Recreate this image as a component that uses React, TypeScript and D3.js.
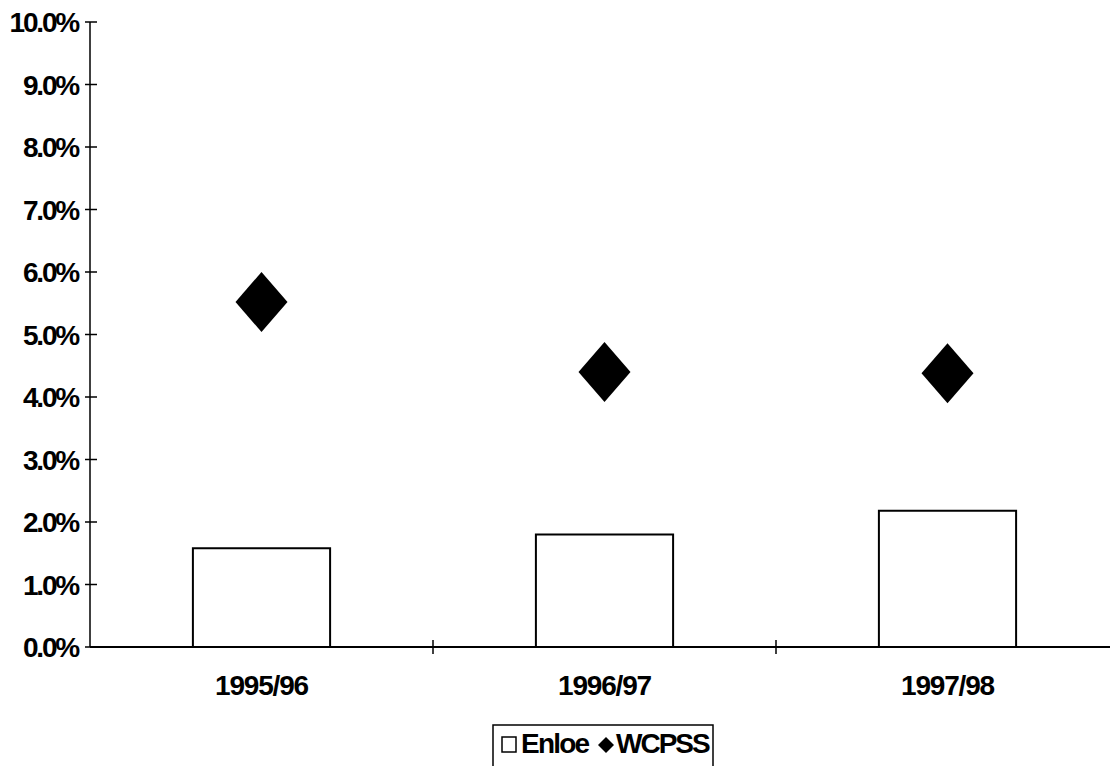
import React, { useRef, useEffect } from 'react';
import * as d3 from 'd3';

const categories = ['1995/96', '1996/97', '1997/98'];
const enloeValues = [0.0158, 0.018, 0.0218];
const wcpssValues = [0.0552, 0.044, 0.0438];
const yTicks = [0, 0.01, 0.02, 0.03, 0.04, 0.05, 0.06, 0.07, 0.08, 0.09, 0.1];
const legendLabels = ['Enloe', 'WCPSS'];

const FONT = '"Liberation Sans", Arial, sans-serif';

const App: React.FC = () => {
  const svgRef = useRef<SVGSVGElement>(null);

  useEffect(() => {
    document.body.style.margin = '0';
    if (!svgRef.current) return;

    const svg = d3.select(svgRef.current);
    svg.selectAll('*').remove();

    const width = 1110;
    const height = 766;
    const left = 90;
    const bandW = 343;

    svg.attr('width', width).attr('height', height);
    svg.append('rect').attr('width', width).attr('height', height).attr('fill', '#fff');

    const x = d3.scaleBand<string>()
      .domain(categories)
      .range([left, left + bandW * categories.length])
      .paddingInner(0)
      .paddingOuter(0);

    const y = d3.scaleLinear().domain([0, 0.1]).range([647, 22]);
    const fmt = d3.format('.1%');

    // y axis
    const g = svg.append('g');
    g.append('line')
      .attr('x1', left).attr('x2', left)
      .attr('y1', y(0.1)).attr('y2', y(0))
      .attr('stroke', '#000').attr('stroke-width', 1.5);

    yTicks.forEach(t => {
      g.append('line')
        .attr('x1', left - 5).attr('x2', left + 7)
        .attr('y1', y(t)).attr('y2', y(t))
        .attr('stroke', '#000').attr('stroke-width', 1.5);
      g.append('text')
        .attr('x', 78)
        .attr('y', y(t))
        .attr('dy', '0.36em')
        .attr('text-anchor', 'end')
        .style('font-family', FONT)
        .style('font-weight', 'bold')
        .style('font-size', '28px')
        .style('letter-spacing', '-2.2px')
        .text(fmt(t));
    });

    // bars
    const barW = x.bandwidth() * 0.4;
    svg.append('g')
      .selectAll('rect')
      .data(categories)
      .enter().append('rect')
      .attr('x', d => (x(d) as number) + x.bandwidth() / 2 - barW / 2)
      .attr('y', (d, i) => y(enloeValues[i]))
      .attr('width', barW)
      .attr('height', (d, i) => y(0) - y(enloeValues[i]))
      .attr('fill', '#fff')
      .attr('stroke', '#000')
      .attr('stroke-width', 2);

    // x axis
    svg.append('line')
      .attr('x1', left).attr('x2', width)
      .attr('y1', y(0)).attr('y2', y(0))
      .attr('stroke', '#000').attr('stroke-width', 2);

    categories.forEach((c, i) => {
      const bx = (x(c) as number) + x.bandwidth();
      if (i < categories.length - 1) {
        svg.append('line')
          .attr('x1', bx).attr('x2', bx)
          .attr('y1', y(0) - 7).attr('y2', y(0) + 7)
          .attr('stroke', '#000').attr('stroke-width', 1.5);
      }
      svg.append('text')
        .attr('x', (x(c) as number) + x.bandwidth() / 2)
        .attr('y', 695)
        .attr('text-anchor', 'middle')
        .style('font-family', FONT)
        .style('font-weight', 'bold')
        .style('font-size', '28px')
        .style('letter-spacing', '-1.2px')
        .text(c);
    });

    // diamonds
    const hw = 26, hh = 30;
    svg.append('g')
      .selectAll('path')
      .data(categories)
      .enter().append('path')
      .attr('transform', (d, i) => `translate(${(x(d) as number) + x.bandwidth() / 2},${y(wcpssValues[i])})`)
      .attr('d', `M0,${-hh}L${hw},0L0,${hh}L${-hw},0Z`)
      .attr('fill', '#000');

    // legend
    const lg = svg.append('g');
    lg.append('rect')
      .attr('x', 493).attr('y', 725)
      .attr('width', 220).attr('height', 50)
      .attr('fill', '#fff')
      .attr('stroke', '#000').attr('stroke-width', 1.5);
    lg.append('rect')
      .attr('x', 502).attr('y', 737)
      .attr('width', 14).attr('height', 15)
      .attr('fill', '#fff')
      .attr('stroke', '#000').attr('stroke-width', 1.5);
    lg.append('text')
      .attr('x', 521).attr('y', 753)
      .style('font-family', FONT)
      .style('font-weight', 'bold')
      .style('font-size', '28px')
      .style('letter-spacing', '-1.8px')
      .text(legendLabels[0]);
    lg.append('path')
      .attr('transform', 'translate(606,745)')
      .attr('d', 'M0,-8L8,0L0,8L-8,0Z')
      .attr('fill', '#000');
    lg.append('text')
      .attr('x', 616).attr('y', 753)
      .style('font-family', FONT)
      .style('font-weight', 'bold')
      .style('font-size', '28px')
      .style('letter-spacing', '-2px')
      .text(legendLabels[1]);
  }, []);

  return <svg ref={svgRef} style={{ display: 'block' }}></svg>;
};

export default App;
